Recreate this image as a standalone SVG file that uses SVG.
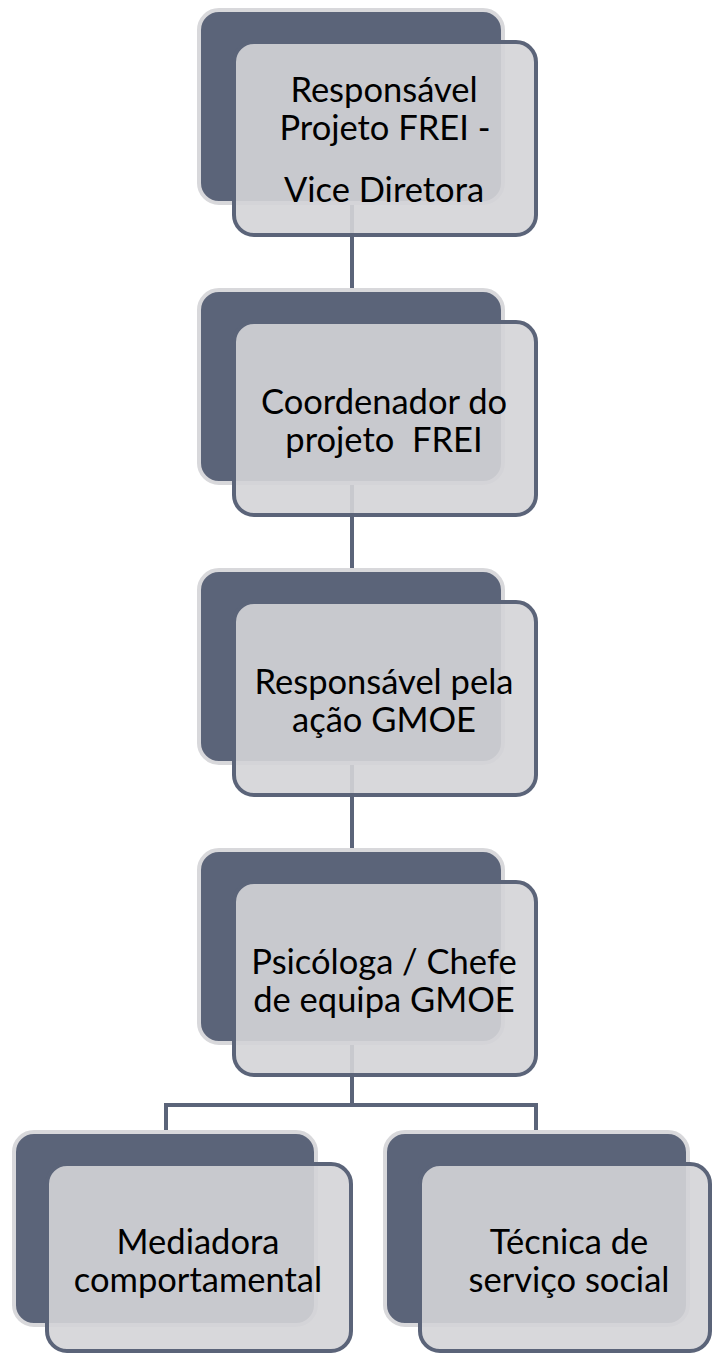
<svg xmlns="http://www.w3.org/2000/svg" width="712" height="1354" viewBox="0 0 712 1354">
<style>
.back{fill:#5B6479;stroke:#D8D8DB;stroke-width:4}
.front{fill:#D4D4D7;fill-opacity:0.9;stroke:#5B6479;stroke-width:4}
.conn{fill:none;stroke:#5B6479;stroke-width:4}
text{font-family:Lato,"Liberation Sans",sans-serif;font-size:34.5px;fill:#000;text-anchor:middle}
</style>
<rect width="712" height="1354" fill="#fff"/>
<g id="connectors">
<path class="conn" d="M352 203V292M352 483V572M352 763V852M352 1043V1105M166 1132V1105H536V1132"/>
</g>
<g id="n1">
<rect class="back" x="199" y="10" width="304" height="193" rx="20"/>
<rect class="front" x="234" y="42" width="302" height="193" rx="20"/>
<text x="384" y="102">Responsável</text>
<text x="385" y="140">Projeto FREI -</text>
<text x="384" y="202">Vice Diretora</text>
</g>
<g id="n2">
<rect class="back" x="199" y="290" width="304" height="193" rx="20"/>
<rect class="front" x="234" y="322" width="302" height="193" rx="20"/>
<text x="384" y="414">Coordenador do</text>
<text x="384" y="452" xml:space="preserve">projeto  FREI</text>
</g>
<g id="n3">
<rect class="back" x="199" y="570" width="304" height="193" rx="20"/>
<rect class="front" x="234" y="602" width="302" height="193" rx="20"/>
<text x="384" y="694">Responsável pela</text>
<text x="384" y="732">ação GMOE</text>
</g>
<g id="n4">
<rect class="back" x="199" y="850" width="304" height="193" rx="20"/>
<rect class="front" x="234" y="882" width="302" height="193" rx="20"/>
<text x="384" y="974">Psicóloga / Chefe</text>
<text x="384" y="1012">de equipa GMOE</text>
</g>
<g id="n5">
<rect class="back" x="14" y="1132" width="302" height="193" rx="20"/>
<rect class="front" x="47" y="1164" width="304" height="187" rx="20"/>
<text x="198" y="1254">Mediadora</text>
<text x="198" y="1292">comportamental</text>
</g>
<g id="n6">
<rect class="back" x="385" y="1132" width="303" height="193" rx="20"/>
<rect class="front" x="420" y="1164" width="290" height="187" rx="20"/>
<text x="569" y="1254">Técnica de</text>
<text x="569" y="1292">serviço social</text>
</g>
</svg>
